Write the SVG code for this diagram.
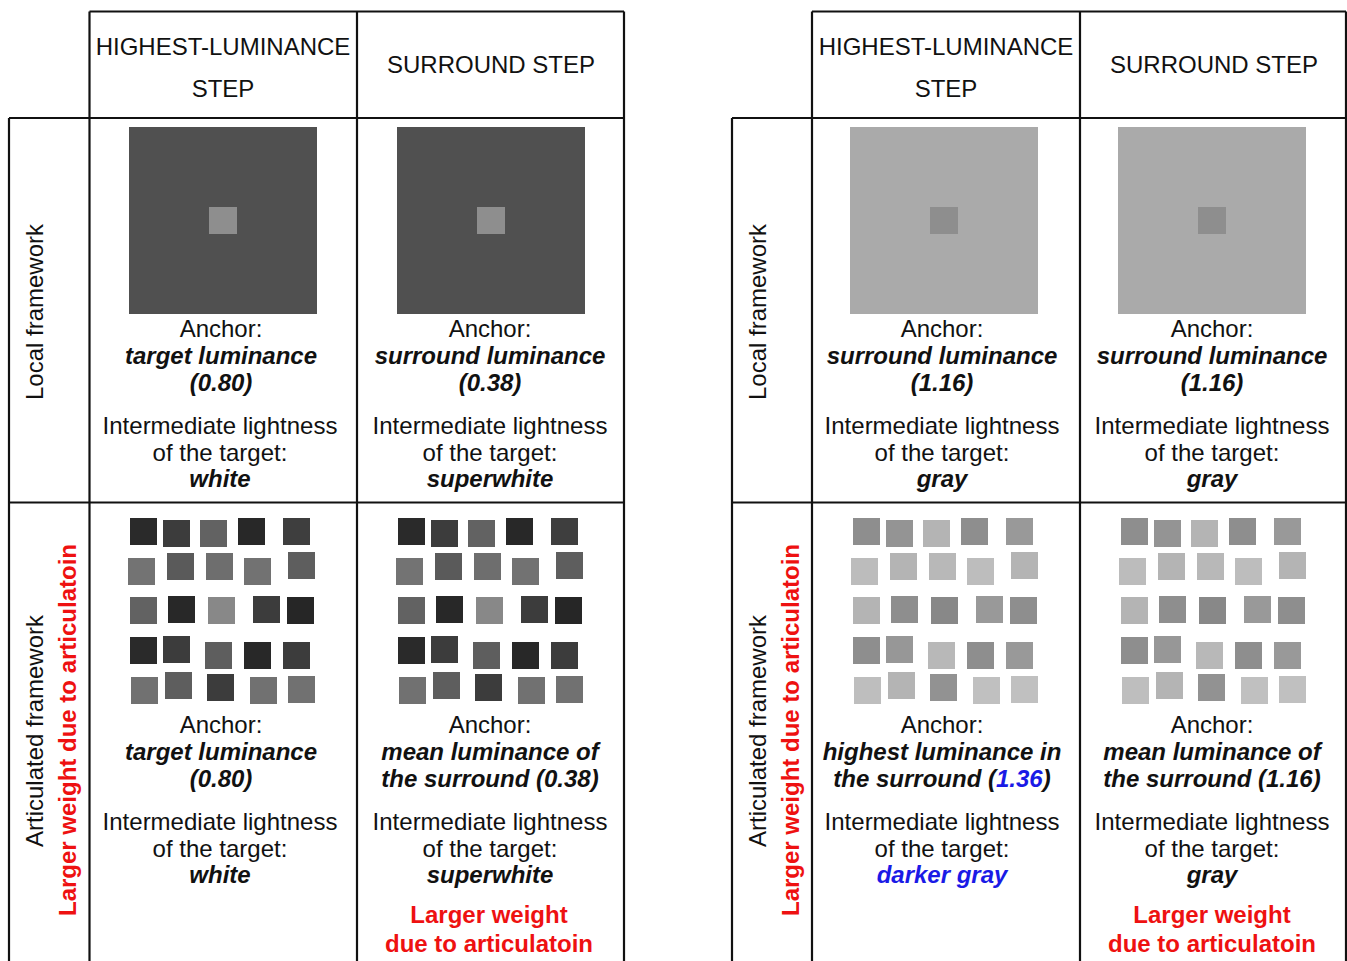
<svg xmlns="http://www.w3.org/2000/svg" xmlns:xlink="http://www.w3.org/1999/xlink" width="1347" height="961" viewBox="0 0 1347 961">
<style>
  text { font-family: "Liberation Sans", Arial, Helvetica, sans-serif; font-size: 24px; fill: #111; text-anchor: middle; }
  .bi { font-weight: bold; font-style: italic; }
  .red { font-weight: bold; fill: #ee1111; }
  .blue { fill: #1a1ae6; }
  .grid { stroke: #111; stroke-width: 2.2; fill: none; }
</style>
<defs>
  <g id="dark">
    <rect x="130" y="518" width="27" height="27" fill="#2a2a2a"/>
    <rect x="163" y="520" width="27" height="27" fill="#3c3c3c"/>
    <rect x="200" y="520" width="27" height="27" fill="#626262"/>
    <rect x="238" y="518" width="27" height="27" fill="#282828"/>
    <rect x="283" y="518" width="27" height="27" fill="#3e3e3e"/>
    <rect x="128" y="558" width="27" height="27" fill="#737373"/>
    <rect x="167" y="553" width="27" height="27" fill="#5a5a5a"/>
    <rect x="206" y="553" width="27" height="27" fill="#6e6e6e"/>
    <rect x="244" y="558" width="27" height="27" fill="#727272"/>
    <rect x="288" y="552" width="27" height="27" fill="#5e5e5e"/>
    <rect x="130" y="597" width="27" height="27" fill="#626262"/>
    <rect x="168" y="596" width="27" height="27" fill="#282828"/>
    <rect x="208" y="597" width="27" height="27" fill="#888888"/>
    <rect x="253" y="596" width="27" height="27" fill="#3c3c3c"/>
    <rect x="287" y="597" width="27" height="27" fill="#262626"/>
    <rect x="130" y="637" width="27" height="27" fill="#2a2a2a"/>
    <rect x="163" y="636" width="27" height="27" fill="#3c3c3c"/>
    <rect x="205" y="642" width="27" height="27" fill="#5e5e5e"/>
    <rect x="244" y="642" width="27" height="27" fill="#282828"/>
    <rect x="283" y="642" width="27" height="27" fill="#3c3c3c"/>
    <rect x="131" y="677" width="27" height="27" fill="#717171"/>
    <rect x="165" y="672" width="27" height="27" fill="#5e5e5e"/>
    <rect x="207" y="674" width="27" height="27" fill="#3c3c3c"/>
    <rect x="250" y="677" width="27" height="27" fill="#717171"/>
    <rect x="288" y="676" width="27" height="27" fill="#717171"/>
  </g>
  <g id="light">
    <rect x="130" y="518" width="27" height="27" fill="#8e8e8e"/>
    <rect x="163" y="520" width="27" height="27" fill="#949494"/>
    <rect x="200" y="520" width="27" height="27" fill="#b4b4b4"/>
    <rect x="238" y="518" width="27" height="27" fill="#8e8e8e"/>
    <rect x="283" y="518" width="27" height="27" fill="#999999"/>
    <rect x="128" y="558" width="27" height="27" fill="#bcbcbc"/>
    <rect x="167" y="553" width="27" height="27" fill="#b4b4b4"/>
    <rect x="206" y="553" width="27" height="27" fill="#b8b8b8"/>
    <rect x="244" y="558" width="27" height="27" fill="#bdbdbd"/>
    <rect x="288" y="552" width="27" height="27" fill="#b4b4b4"/>
    <rect x="130" y="597" width="27" height="27" fill="#b4b4b4"/>
    <rect x="168" y="596" width="27" height="27" fill="#8e8e8e"/>
    <rect x="208" y="597" width="27" height="27" fill="#888888"/>
    <rect x="253" y="596" width="27" height="27" fill="#999999"/>
    <rect x="287" y="597" width="27" height="27" fill="#8e8e8e"/>
    <rect x="130" y="637" width="27" height="27" fill="#8e8e8e"/>
    <rect x="163" y="636" width="27" height="27" fill="#979797"/>
    <rect x="205" y="642" width="27" height="27" fill="#b8b8b8"/>
    <rect x="244" y="642" width="27" height="27" fill="#8e8e8e"/>
    <rect x="283" y="642" width="27" height="27" fill="#999999"/>
    <rect x="131" y="677" width="27" height="27" fill="#bebebe"/>
    <rect x="165" y="672" width="27" height="27" fill="#b4b4b4"/>
    <rect x="207" y="674" width="27" height="27" fill="#929292"/>
    <rect x="250" y="677" width="27" height="27" fill="#c0c0c0"/>
    <rect x="288" y="676" width="27" height="27" fill="#c0c0c0"/>
  </g>
</defs>
<rect width="1347" height="961" fill="#ffffff"/>

<!-- grid lines -->
<g id="connectors" class="grid">
  <path d="M89.5 11.5 H624 M9 118 H624 M9 502.5 H624 M9 118 V961 M89.5 11.5 V961 M357 11.5 V961 M624 11.5 V961"/>
  <path d="M812 11.5 H1346 M732 118 H1346 M732 502.5 H1346 M732 118 V961 M812 11.5 V961 M1080 11.5 V961 M1346 11.5 V961"/>
</g>

<!-- headers -->
<g id="hdr-l1"><text x="223" y="54.5">HIGHEST-LUMINANCE</text><text x="223" y="96.5">STEP</text></g>
<g id="hdr-l2"><text x="491" y="73">SURROUND STEP</text></g>
<g id="hdr-r1"><text x="946" y="54.5">HIGHEST-LUMINANCE</text><text x="946" y="96.5">STEP</text></g>
<g id="hdr-r2"><text x="1214" y="73">SURROUND STEP</text></g>

<!-- row labels -->
<g id="lbl-l-local"><text transform="translate(43,312) rotate(-90)">Local framework</text></g>
<g id="lbl-l-art">
  <text transform="translate(43,731) rotate(-90)">Articulated framework</text>
  <text class="red" transform="translate(76,730) rotate(-90)">Larger weight due to articulatoin</text>
</g>
<g id="lbl-r-local"><text transform="translate(766,312) rotate(-90)">Local framework</text></g>
<g id="lbl-r-art">
  <text transform="translate(766,731) rotate(-90)">Articulated framework</text>
  <text class="red" transform="translate(799,730) rotate(-90)">Larger weight due to articulatoin</text>
</g>

<!-- Local framework cells -->
<g id="cell-l1-local">
  <rect x="129" y="127" width="188" height="187" fill="#505050"/>
  <rect x="209" y="207" width="28" height="27" fill="#8e8e8e"/>
  <text x="221" y="337">Anchor:</text>
  <text x="221" y="364" class="bi">target luminance</text>
  <text x="221" y="391" class="bi">(0.80)</text>
  <text x="220" y="434">Intermediate lightness</text>
  <text x="220" y="461">of the target:</text>
  <text x="220" y="487" class="bi">white</text>
</g>
<g id="cell-l2-local">
  <rect x="397" y="127" width="188" height="187" fill="#505050"/>
  <rect x="477" y="207" width="28" height="27" fill="#8e8e8e"/>
  <text x="490" y="337">Anchor:</text>
  <text x="490" y="364" class="bi">surround luminance</text>
  <text x="490" y="391" class="bi">(0.38)</text>
  <text x="490" y="434">Intermediate lightness</text>
  <text x="490" y="461">of the target:</text>
  <text x="490" y="487" class="bi">superwhite</text>
</g>
<g id="cell-r1-local">
  <rect x="850" y="127" width="188" height="187" fill="#aaaaaa"/>
  <rect x="930" y="207" width="28" height="27" fill="#8e8e8e"/>
  <text x="942" y="337">Anchor:</text>
  <text x="942" y="364" class="bi">surround luminance</text>
  <text x="942" y="391" class="bi">(1.16)</text>
  <text x="942" y="434">Intermediate lightness</text>
  <text x="942" y="461">of the target:</text>
  <text x="942" y="487" class="bi">gray</text>
</g>
<g id="cell-r2-local">
  <rect x="1118" y="127" width="188" height="187" fill="#aaaaaa"/>
  <rect x="1198" y="207" width="28" height="27" fill="#8e8e8e"/>
  <text x="1212" y="337">Anchor:</text>
  <text x="1212" y="364" class="bi">surround luminance</text>
  <text x="1212" y="391" class="bi">(1.16)</text>
  <text x="1212" y="434">Intermediate lightness</text>
  <text x="1212" y="461">of the target:</text>
  <text x="1212" y="487" class="bi">gray</text>
</g>

<!-- Articulated framework cells -->
<g id="cell-l1-art">
  <use xlink:href="#dark" href="#dark"/>
  <text x="221" y="733">Anchor:</text>
  <text x="221" y="760" class="bi">target luminance</text>
  <text x="221" y="787" class="bi">(0.80)</text>
  <text x="220" y="830">Intermediate lightness</text>
  <text x="220" y="857">of the target:</text>
  <text x="220" y="883" class="bi">white</text>
</g>
<g id="cell-l2-art">
  <use xlink:href="#dark" href="#dark" transform="translate(268,0)"/>
  <text x="490" y="733">Anchor:</text>
  <text x="490" y="760" class="bi">mean luminance of</text>
  <text x="490" y="787" class="bi">the surround (0.38)</text>
  <text x="490" y="830">Intermediate lightness</text>
  <text x="490" y="857">of the target:</text>
  <text x="490" y="883" class="bi">superwhite</text>
  <text x="489" y="923" class="red">Larger weight</text>
  <text x="489" y="952" class="red">due to articulatoin</text>
</g>
<g id="cell-r1-art">
  <use xlink:href="#light" href="#light" transform="translate(723,0)"/>
  <text x="942" y="733">Anchor:</text>
  <text x="942" y="760" class="bi">highest luminance in</text>
  <text x="942" y="787" class="bi">the surround (<tspan class="blue">1.36</tspan>)</text>
  <text x="942" y="830">Intermediate lightness</text>
  <text x="942" y="857">of the target:</text>
  <text x="942" y="883" class="bi blue">darker gray</text>
</g>
<g id="cell-r2-art">
  <use xlink:href="#light" href="#light" transform="translate(991,0)"/>
  <text x="1212" y="733">Anchor:</text>
  <text x="1212" y="760" class="bi">mean luminance of</text>
  <text x="1212" y="787" class="bi">the surround (1.16)</text>
  <text x="1212" y="830">Intermediate lightness</text>
  <text x="1212" y="857">of the target:</text>
  <text x="1212" y="883" class="bi">gray</text>
  <text x="1212" y="923" class="red">Larger weight</text>
  <text x="1212" y="952" class="red">due to articulatoin</text>
</g>
</svg>
